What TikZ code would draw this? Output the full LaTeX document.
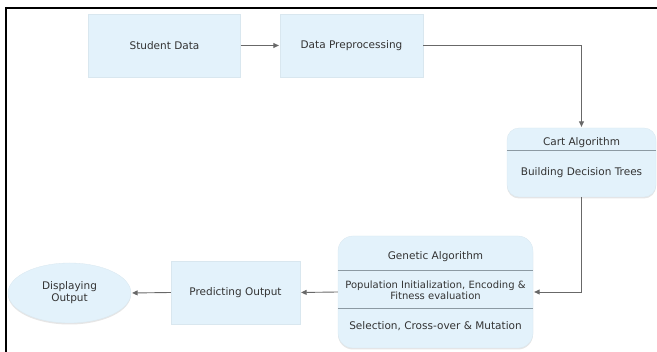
\documentclass[tikz,border=0pt]{standalone}
\usepackage{fontspec}
\setmainfont{DejaVu Sans}
\usepackage{tikz}
\usepackage{xcolor}
\usetikzlibrary{arrows.meta,calc,positioning,shapes.geometric,shadows}
\definecolor{boxblue}{HTML}{E3F2FB}
\definecolor{linegray}{HTML}{686868}
\definecolor{sepgray}{HTML}{8C9AA3}
\definecolor{textgray}{HTML}{333333}

\tikzset{
	box/.style={fill=boxblue,draw=boxblue!90!gray,line width=0.3pt,text=textgray,
		drop shadow={opacity=0.2,shadow xshift=0pt,shadow yshift=-1.5pt}},
	flow/.style={draw=linegray,line width=0.9pt,-{Triangle[length=5.5pt,width=5pt]},shorten >=1pt},
	sep/.style={draw=sepgray,line width=0.7pt},
	lbl/.style={text=textgray,align=center,inner sep=0pt}
}

\begin{document}
\begin{tikzpicture}[x=1pt,y=-1pt,font=\fontsize{10.5}{12}\selectfont]
		\useasboundingbox (0,0) rectangle (657,352);
		
		\draw[black,line width=2pt] (5,8) -- (657,8);
		\draw[black,line width=2pt] (6,7) -- (6,352);
		
		\node[box,minimum width=152pt,minimum height=63pt] (student) at (164.5,45.5) {Student Data};
		\node[box,minimum width=143pt,minimum height=63pt] (prep) at (351.5,45.5) {Data Preprocessing};
		
		\node[box,rounded corners=12pt,minimum width=149pt,minimum height=69pt] (cart) at (581.5,162.5) {};
		\draw[sep] ([yshift=-23pt]cart.north west) -- ([yshift=-23pt]cart.north east);
		\node[lbl] (cart title) at ([yshift=-15pt]cart.north) {Cart Algorithm};
		\node[lbl] (cart body) at ([yshift=-45pt]cart.north) {Building Decision Trees};
		
		\node[box,rounded corners=15pt,minimum width=195pt,minimum height=112pt] (genetic) at (435.5,292) {};
		\draw[sep] ([yshift=-35pt]genetic.north west) -- ([yshift=-35pt]genetic.north east);
		\draw[sep] ([yshift=-73pt]genetic.north west) -- ([yshift=-73pt]genetic.north east);
		\node[lbl] (ga title) at ([yshift=-21pt]genetic.north) {Genetic Algorithm};
		\node[lbl,font=\fontsize{10}{11}\selectfont] (ga init) at ([yshift=-54pt]genetic.north) {Population Initialization, Encoding \&\\Fitness evaluation};
		\node[lbl] (ga ops) at ([yshift=-90pt]genetic.north) {Selection, Cross-over \& Mutation};
		
		\node[box,minimum width=129pt,minimum height=63pt] (predict) at (235.5,292.5) {Predicting Output};
		\node[box,ellipse,minimum width=123pt,minimum height=60pt,align=center,inner sep=0pt] (display) at (69.5,293) {Displaying\\Output};
		
		\draw[flow] (student.east) -- (prep.west);
		\draw[flow] (prep.east) -| (cart.north);
		\draw[flow] (cart.south) |- (genetic.east);
		\draw[flow] (genetic.west) -- (predict.east);
		\draw[flow] (predict.west) -- (display.east);
	\end{tikzpicture}
\end{document}
